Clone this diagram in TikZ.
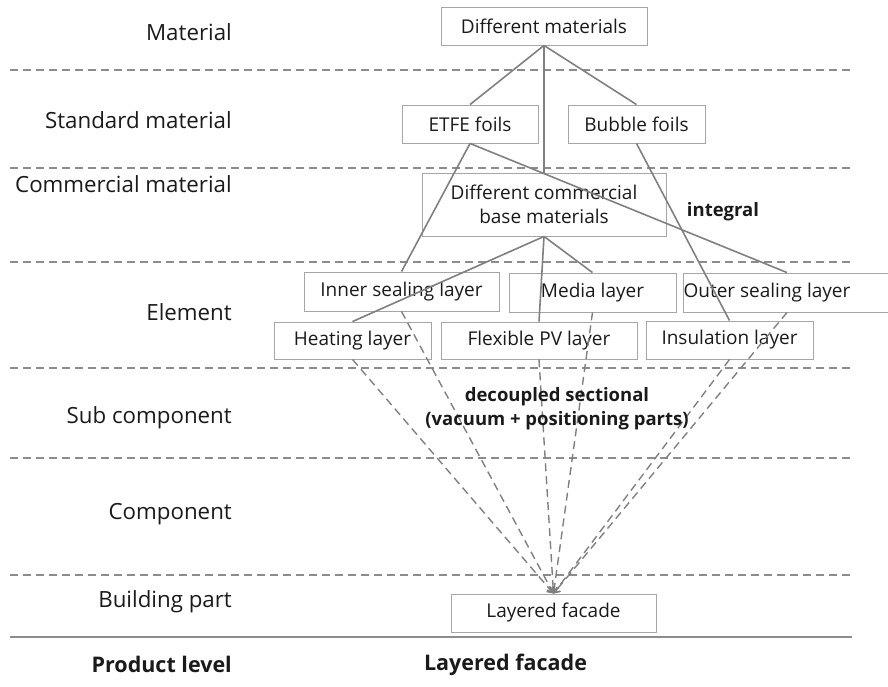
\documentclass[tikz,border=0pt]{standalone}
\usepackage{fontspec}
\setmainfont{Open Sans}
\usetikzlibrary{arrows.meta}
\definecolor{txt}{HTML}{1A1A1A}
\definecolor{boxline}{HTML}{A6A6A6}
\definecolor{linkline}{HTML}{808080}
\definecolor{sepline}{HTML}{8C8C8C}
\begin{document}
\begin{tikzpicture}[x=1pt,y=-1pt,
  every node/.style={text=txt, font=\fontsize{19}{24}\selectfont, inner sep=0pt},
  box/.style={draw=boxline, line width=0.9pt, minimum height=38pt, fill=none},
  lvl/.style={anchor=east, font=\fontsize{22.3}{24}\selectfont},
  link/.style={draw=linkline, line width=1.6pt},
  weak/.style={draw=linkline, line width=1.4pt, dash pattern=on 8pt off 5pt, -{Straight Barb[length=5pt,width=8pt]}},
  sep/.style={draw=sepline, line width=1.2pt, dash pattern=on 8pt off 5pt},
  boldtxt/.style={font=\fontsize{18.5}{24}\selectfont\bfseries},
  bigbold/.style={font=\fontsize{21.5}{24}\selectfont\bfseries}]
\useasboundingbox (0,0) rectangle (888,686);

% level separators
\foreach \yy in {70,168,262,368,458,575}
  \draw[sep] (10,\yy) -- (850,\yy);
\draw[draw=sepline, line width=1.4pt] (10,637) -- (852,637);

% level names
\node[lvl] (lmat) at (232,32) {Material};
\node[lvl] (lstd) at (232,120) {Standard material};
\node[lvl] (lcom) at (232,184) {Commercial material};
\node[lvl] (lele) at (232,312) {Element};
\node[lvl] (lsub) at (232,418) {Sub component};
\node[lvl] (lcmp) at (232,514) {Component};
\node[lvl] (lbld) at (232,602) {Building part};
\node[bigbold, anchor=east] (lprod) at (232,664) {Product level};
\node[bigbold] (prod) at (505.5,665) {Layered facade};

% material boxes
\node[box, minimum width=206pt] (dm) at (544,26) {Different materials};
\node[box, minimum width=136pt] (etfe) at (470,124) {ETFE foils};
\node[box, minimum width=137pt] (bub) at (636.5,124) {Bubble foils};
\node[box, minimum width=244pt, minimum height=63pt, align=center] (com) at (544,204.5) {Different commercial\\base materials};

% element boxes
\node[box, minimum width=195pt, minimum height=39pt] (inner) at (401.5,291.5) {Inner sealing layer};
\node[box, minimum width=167pt, minimum height=39pt] (media) at (592.5,292.5) {Media layer};
\node[box, minimum width=204pt, minimum height=39pt] (outer) at (787,292.5) {Outer sealing layer\hspace*{40pt}};
\node[box, minimum width=157pt, minimum height=37pt] (heat) at (352.5,340.5) {Heating layer};
\node[box, minimum width=196pt, minimum height=37pt] (pv) at (539,340.5) {Flexible PV layer};
\node[box, minimum width=167pt, minimum height=38pt] (ins) at (729.5,340) {Insulation layer};

% building part
\node[box, minimum width=205pt] (fac) at (553.5,613) {Layered facade};

% integral links
\draw[link] (dm.south) -- (etfe.north);
\draw[link] (dm.south) -- (bub.north);
\draw[link] (dm.south) -- (com.north);
\draw[link] (etfe.south) -- (inner.north);
\draw[link] (etfe.south) -- (outer.north);
\draw[link] (bub.south) -- (ins.north);
\draw[link] (com.south) -- (heat.north);
\draw[link] (com.south) -- (pv.north);
\draw[link] (com.south) -- (media.north);

% decoupled links
\draw[weak] (heat.south) -- (fac.north);
\draw[weak] (inner.south) -- (fac.north);
\draw[weak] (pv.south) -- (fac.north);
\draw[weak] (media.south) -- (fac.north);
\draw[weak] (outer.south) -- (fac.north);
\draw[weak] (ins.south) -- (fac.north);

% annotations
\node[boldtxt] (integral) at (723,212) {integral};
\node[boldtxt, align=center] (decoupled) at (557,409) {decoupled sectional\\(vacuum + positioning parts)};
\end{tikzpicture}
\end{document}
